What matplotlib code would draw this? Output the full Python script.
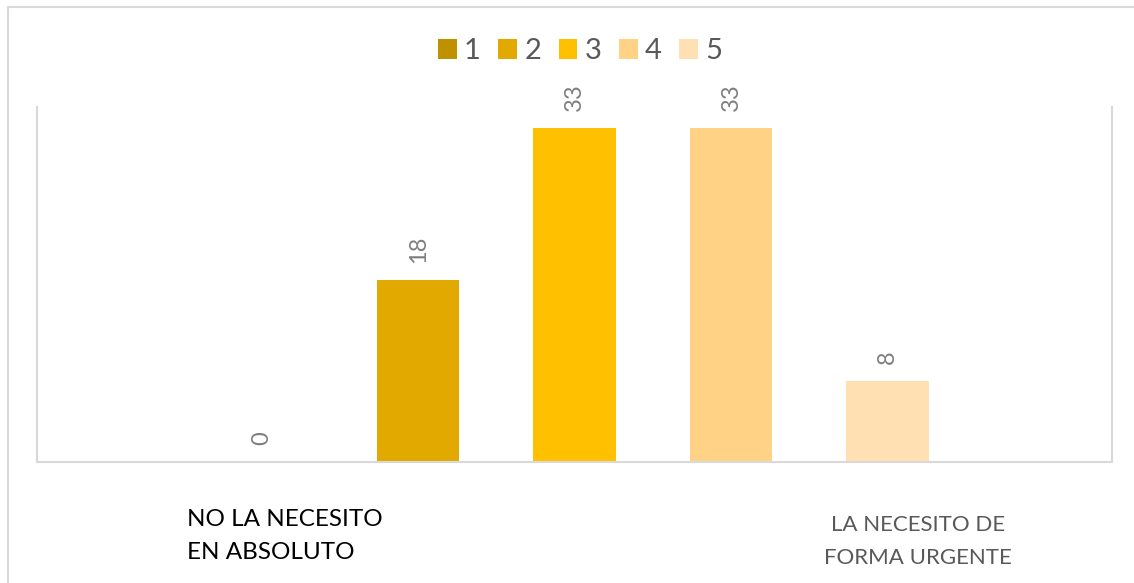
import matplotlib.pyplot as plt
from matplotlib.patches import Rectangle, Patch

# Datos del gráfico
categorias = ['1', '2', '3', '4', '5']
valores = [0, 18, 33, 33, 8]
colores = ['#BF9000', '#E2AA00', '#FFC000', '#FFD286', '#FFE0B3']
etiqueta_izq = 'NO LA NECESITO\nEN ABSOLUTO'
etiqueta_der = 'LA NECESITO DE\nFORMA URGENTE'

plt.rcParams['font.family'] = ['Lato', 'DejaVu Sans']

W, H = 1134, 583
fig = plt.figure(figsize=(W / 100, H / 100), dpi=100)

# Borde exterior del gráfico
fig.patches.append(Rectangle((7.5 / W, -0.05), 1.1, 1 - 7.5 / H + 0.05,
                             transform=fig.transFigure, fill=False,
                             edgecolor='#D9D9D9', linewidth=1.5))

ax = fig.add_axes([37 / W, 1 - 462 / H, (1112 - 37) / W, (462 - 107) / H])

x = list(range(len(categorias)))
barras = ax.bar(x, valores, width=0.53, color=colores)

# Etiquetas de datos giradas
for xi, v in zip(x, valores):
    ax.annotate(str(v), (xi, v), xytext=(0, 17), textcoords='offset pixels',
                rotation=90, ha='center', va='bottom', fontsize=17,
                color='#7F7F7F')

ax.set_xlim(-1.435, 5.435)
ax.set_ylim(0, 35.07)
ax.set_xticks([])
ax.set_yticks([])
ax.spines['top'].set_visible(False)
for s in ['left', 'right', 'bottom']:
    ax.spines[s].set_color('#D9D9D9')
    ax.spines[s].set_linewidth(1.5)

# Leyenda
manijas = [Patch(facecolor=c, edgecolor='none') for c in colores]
fig.legend(manijas, categorias, loc='center', bbox_to_anchor=(580 / W, 1 - 51 / H),
           ncol=5, frameon=False, fontsize=21, handlelength=0.64,
           handleheight=0.7, handletextpad=0.25, columnspacing=0.6,
           labelcolor='#595959', borderaxespad=0, borderpad=0)

# Textos inferiores
fig.text(187 / W, 1 - 536 / H, etiqueta_izq, ha='left', va='center',
         fontsize=17.5, color='black', linespacing=1.75)
fig.text(918 / W, 1 - 541.5 / H, etiqueta_der, ha='center', va='center',
         fontsize=16, color='#595959', linespacing=1.83)

fig.savefig('out.png', dpi=100)
